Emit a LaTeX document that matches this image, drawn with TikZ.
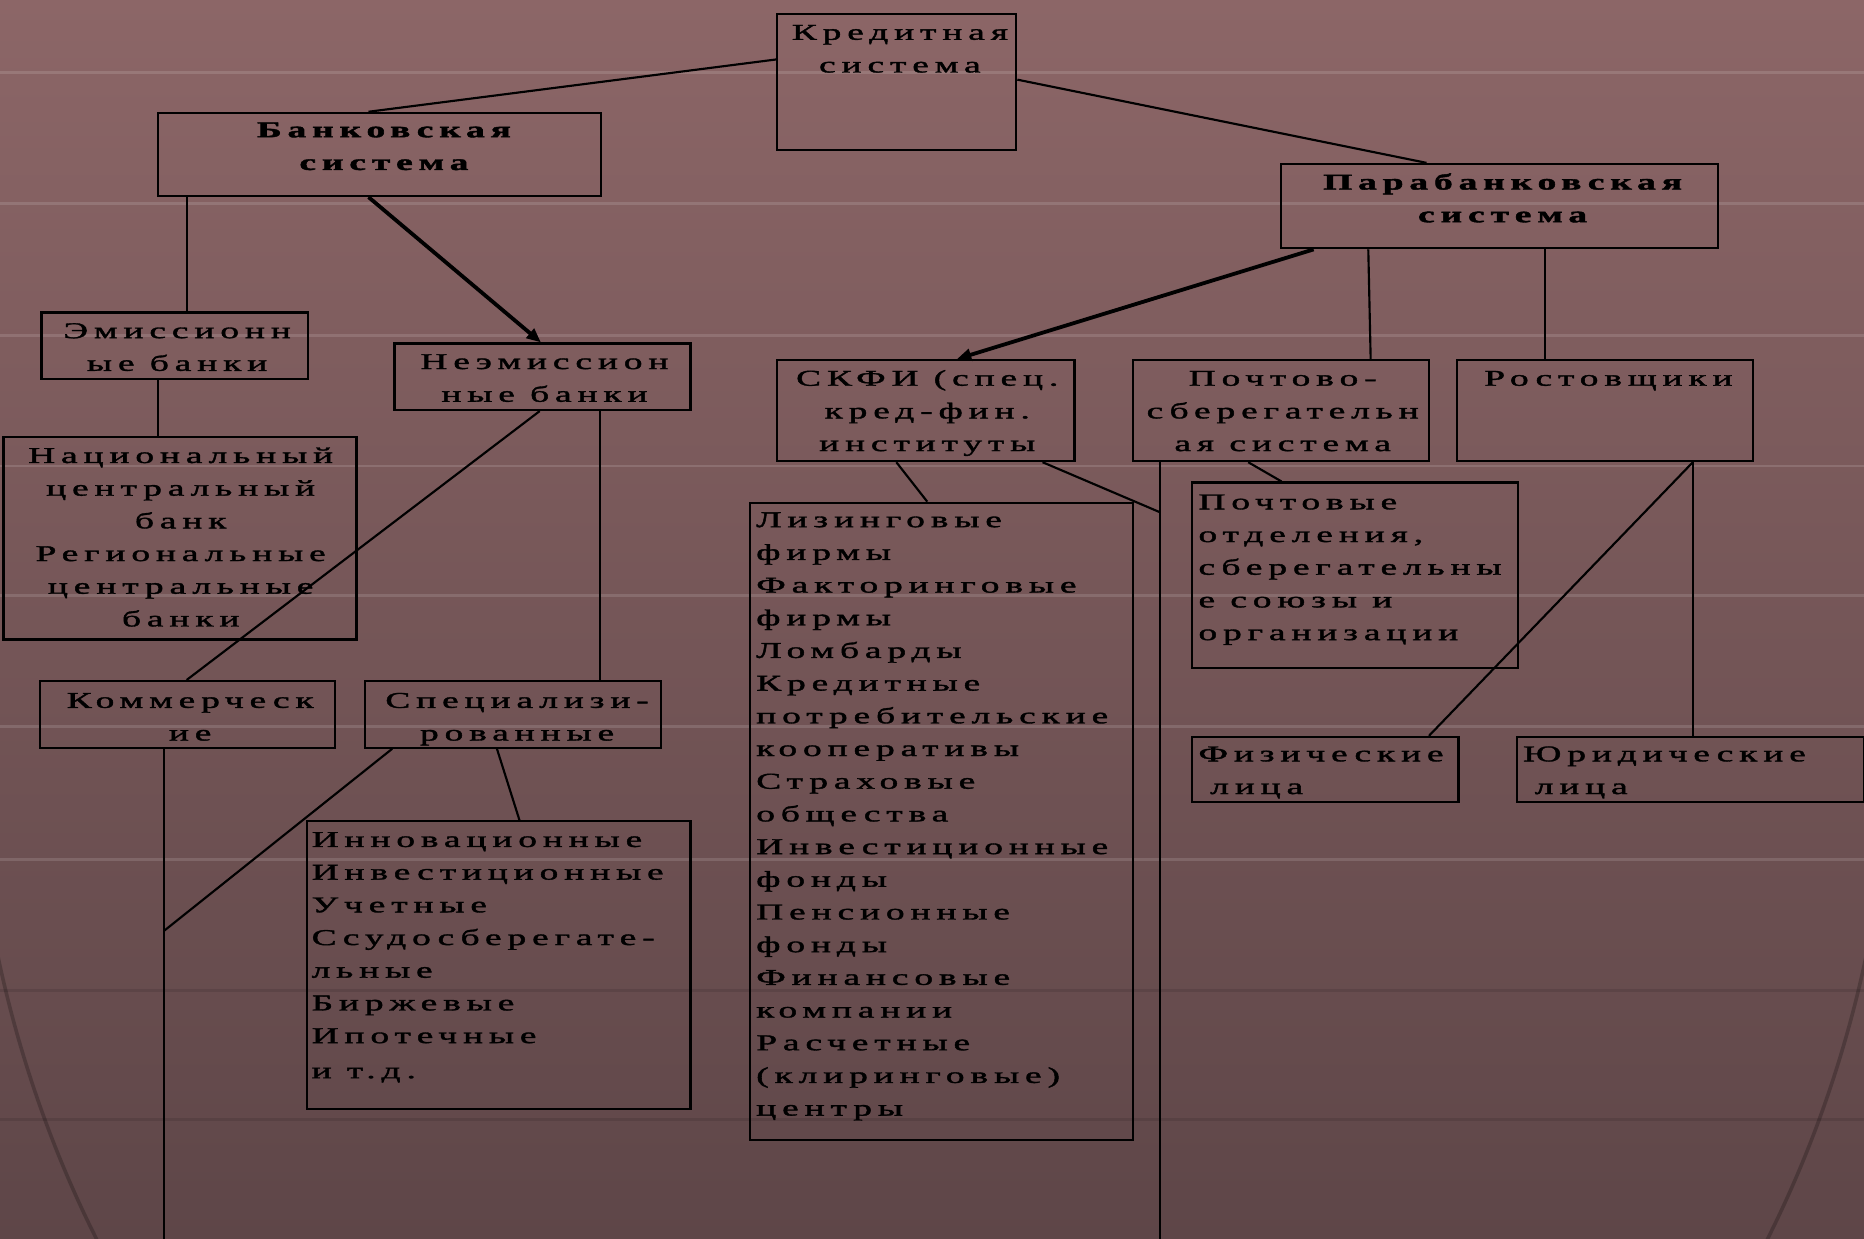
\documentclass[tikz,border=0pt]{standalone}
\usepackage{fontspec}
\usepackage{graphicx}
\newfontfamily\rf[LetterSpace=16,UprightFeatures={FakeBold=1.4},BoldFeatures={FakeBold=1.6}]{Liberation Serif}
\newcommand{\mycen}[1]{\scalebox{1.65}[1]{\begin{tabular}{@{}c@{}}#1\end{tabular}}}
\newcommand{\myleft}[1]{\scalebox{1.65}[1]{\begin{tabular}{@{}l@{}}#1\end{tabular}}}
\usetikzlibrary{arrows.meta}
\definecolor{bgtop}{RGB}{140,102,103}
\definecolor{bgbot}{RGB}{94,70,72}
\tikzset{
  box/.style={draw=black, line width=1.8pt, inner sep=0pt, anchor=north west},
  txt/.style={font=\rf\fontsize{19}{27.5}\selectfont, inner sep=0pt, text=black},
  btxt/.style={txt, font=\rf\bfseries\fontsize{19}{27.5}\selectfont},
  conn/.style={draw=black, line width=1.8pt},
  thick arrow/.style={draw=black, line width=3.2pt, -{Triangle[length=12pt,width=10pt]}},
  latlight/.style={draw=white, draw opacity=0.13, line width=2.4pt},
  latdark/.style={draw=black, draw opacity=0.10, line width=2.4pt},
  meridian/.style={draw=white, draw opacity=0.17, line width=2.2pt},
  rim/.style={draw=black, draw opacity=0.22, line width=3pt}
}
\begin{document}
\begin{tikzpicture}[x=1pt,y=-1pt]
\useasboundingbox (0,0) rectangle (1568,1042);
% background
\begin{scope}
\clip (0,0) rectangle (1568,1042);
\fill[top color=bgtop, bottom color=bgbot] (0,0) rectangle (1568,1042);
\foreach \yy in {61,171,282,392,501,611,723}
  \draw[latlight] (0,\yy) -- (1568,\yy);
\foreach \yy in {833,942}
  \draw[latdark] (0,\yy) -- (1568,\yy);
\foreach \a in {714,596,478,360,242,124}
  \draw[meridian] (784,-326) arc[start angle=90, end angle=270, x radius=\a, y radius=916];
\foreach \a in {112,230,348,466,584,702}
  \draw[meridian] (784,-326) arc[start angle=90, end angle=-90, x radius=\a, y radius=916];
\begin{scope}
\clip (0,760) rectangle (1568,1042);
\draw[rim] (784,590) ellipse [x radius=808, y radius=916];
\end{scope}
\end{scope}

% boxes
\node[box, minimum width=201pt, minimum height=114pt] (kred) at (653,11) {};
\node[box, minimum width=373pt, minimum height=70pt] (bank) at (132,94) {};
\node[box, minimum width=367pt, minimum height=71pt] (para) at (1077,137) {};
\node[box, minimum width=224pt, minimum height=56pt] (emis) at (34,262) {};
\node[box, minimum width=249pt, minimum height=56pt] (neem) at (331,288) {};
\node[box, minimum width=297pt, minimum height=170pt] (nac) at (2,367) {};
\node[box, minimum width=248pt, minimum height=56pt] (kom) at (33,572) {};
\node[box, minimum width=249pt, minimum height=56pt] (spec) at (306,572) {};
\node[box, minimum width=323pt, minimum height=242pt] (inn) at (257,690) {};
\node[box, minimum width=250pt, minimum height=85pt] (skfi) at (653,302) {};
\node[box, minimum width=322pt, minimum height=536pt] (liz) at (630,422) {};
\node[box, minimum width=249pt, minimum height=85pt] (poch) at (952,302) {};
\node[box, minimum width=249pt, minimum height=85pt] (rost) at (1225,302) {};
\node[box, minimum width=274pt, minimum height=156pt] (posv) at (1002,405) {};
\node[box, minimum width=224pt, minimum height=55pt] (fiz) at (1002,619) {};
\node[box, minimum width=292pt, minimum height=55pt] (yur) at (1275,619) {};

% texts
\node[txt, anchor=north] (kredT) at (757,14) {\mycen{Кредитная\\система}};
\node[btxt, anchor=north] (bankT) at (323,96) {\mycen{Банковская\\система}};
\node[btxt, anchor=north] (paraT) at (1264,140) {\mycen{Парабанковская\\система}};
\node[txt, anchor=north] (emisT) at (149,265) {\mycen{Эмиссионн\\ые банки}};
\node[txt, anchor=north] (neemT) at (458,291) {\mycen{Неэмиссион\\ные банки}};
\node[txt, anchor=north] (nacT) at (152,370) {\mycen{Национальный\\центральный\\банк\\Региональные\\центральные\\банки}};
\node[txt, anchor=north] (komT) at (160,576) {\mycen{Коммерческ\\ие}};
\node[txt, anchor=north] (specT) at (435,576) {\mycen{Специализи-\\рованные}};
\node[txt, anchor=north west] (innT) at (262,693) {\myleft{Инновационные\\Инвестиционные\\Учетные\\Ссудосберегате-\\льные\\Биржевые\\Ипотечные\\[2pt]и т.д.}};
\node[txt, anchor=north] (skfiT) at (780,305) {\mycen{СКФИ (спец.\\кред-фин.\\институты}};
\node[txt, anchor=north west] (lizT) at (636,424) {\myleft{Лизинговые\\фирмы\\Факторинговые\\фирмы\\Ломбарды\\Кредитные\\потребительские\\кооперативы\\Страховые\\общества\\Инвестиционные\\фонды\\Пенсионные\\фонды\\Финансовые\\компании\\Расчетные\\(клиринговые)\\центры}};
\node[txt, anchor=north] (pochT) at (1079,305) {\mycen{Почтово-\\сберегательн\\ая система}};
\node[txt, anchor=north] (rostT) at (1353,305) {\mycen{Ростовщики}};
\node[txt, anchor=north west] (posvT) at (1008,409) {\myleft{Почтовые\\отделения,\\сберегательны\\е союзы и\\организации}};
\node[txt, anchor=north west] (fizT) at (1008,621) {\myleft{Физические\\\hspace*{6pt}лица}};
\node[txt, anchor=north west] (yurT) at (1281,621) {\myleft{Юридические\\\hspace*{6pt}лица}};

% free ends
\coordinate (kj) at (138,783);
\coordinate (kbot) at (138,1042);
\coordinate (vj) at (976,431);
\coordinate (vbot) at (976,1042);

% connectors
\draw[conn] ([yshift=-39pt]kred.north west) -- ([xshift=178pt]bank.north west);
\draw[conn] ([yshift=-56pt]kred.north east) -- ([xshift=123pt]para.north west);
\draw[conn] ([xshift=25pt]bank.south west) -- ([xshift=123pt]emis.north west);
\draw[thick arrow] ([xshift=178pt]bank.south west) -- ([xshift=124pt]neem.north west);
\draw[conn] ([xshift=99pt]emis.south west) -- ([xshift=131pt]nac.north west);
\draw[conn] ([xshift=123pt]neem.south west) -- ([xshift=124pt]kom.north west);
\draw[conn] ([xshift=174pt]neem.south west) -- ([xshift=199pt]spec.north west);
\draw[conn] ([xshift=105pt]kom.south west) -- (kbot);
\draw[conn] ([xshift=24pt]spec.south west) -- (kj);
\draw[conn] ([xshift=112pt]spec.south west) -- ([xshift=180pt]inn.north west);
\draw[thick arrow] ([xshift=28pt]para.south west) -- ([xshift=152pt]skfi.north west);
\draw[conn] ([xshift=74pt]para.south west) -- ([xshift=201pt]poch.north west);
\draw[conn] ([xshift=223pt]para.south west) -- ([xshift=75pt]rost.north west);
\draw[conn] ([xshift=101pt]skfi.south west) -- ([xshift=150pt]liz.north west);
\draw[conn] ([xshift=224pt]skfi.south west) -- (vj);
\draw[conn] ([xshift=24pt]poch.south west) -- (vbot);
\draw[conn] ([xshift=98pt]poch.south west) -- ([xshift=76pt]posv.north west);
\draw[conn] ([xshift=199pt]rost.south west) -- ([xshift=200pt]fiz.north west);
\draw[conn] ([xshift=199pt]rost.south west) -- ([xshift=149pt]yur.north west);
\end{tikzpicture}
\end{document}
